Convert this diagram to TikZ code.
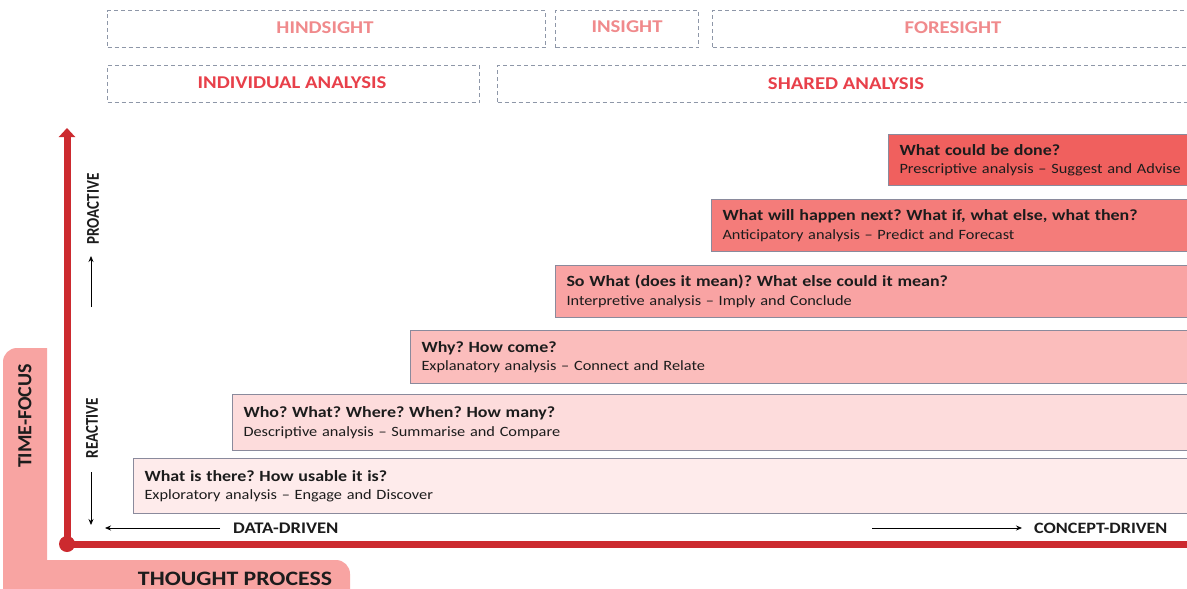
\documentclass[tikz,border=0pt]{standalone}
\usepackage{fontspec}
\setmainfont{Carlito}
\newfontfamily\wfont[FakeStretch=1.15,Ligatures=TeX]{Carlito}
\newfontfamily\tpfont[FakeStretch=1.16,Ligatures=TeX]{Carlito}
\usetikzlibrary{arrows.meta}
\definecolor{axisred}{HTML}{CC2A2F}
\definecolor{bandpink}{HTML}{F8A4A2}
\definecolor{dashgray}{HTML}{8E97A8}
\definecolor{lightred}{HTML}{F08A8C}
\definecolor{strongred}{HTML}{E8404A}
\definecolor{bordergray}{HTML}{8A8A9C}
\definecolor{cA}{HTML}{FEEBEB}
\definecolor{cB}{HTML}{FDDCDC}
\definecolor{cC}{HTML}{FBBDBC}
\definecolor{cD}{HTML}{F9A3A3}
\definecolor{cE}{HTML}{F47C7A}
\definecolor{cF}{HTML}{F0605E}
\definecolor{txt}{HTML}{1C1C1C}
\newcommand{\ttl}[1]{{\fontsize{15.6}{18}\selectfont\bfseries #1}}
\newcommand{\sub}[1]{{\fontsize{14.2}{18}\selectfont #1}}
\begin{document}
\frenchspacing
\begin{tikzpicture}[x=1pt,y=-1pt,
  dashbox/.style={draw=dashgray, line width=1pt, dash pattern=on 4pt off 3pt, anchor=north west, inner sep=0pt},
  hdlight/.style={font=\wfont\fontsize{18}{20}\selectfont\bfseries, text=lightred},
  hdstrong/.style={font=\wfont\fontsize{18}{20}\selectfont\bfseries, text=strongred},
  stepbox/.style={draw=bordergray, line width=1pt, anchor=north west, inner xsep=11pt, inner ysep=0pt, align=left, text=txt, font=\wfont\fontsize{14.2}{18.5}\selectfont\frenchspacing},
  axislbl/.style={font=\wfont\fontsize{16.2}{18}\selectfont\bfseries, text=txt, inner sep=0pt},
  sidelbl/.style={font=\fontsize{15}{17}\selectfont\bfseries, text=txt, rotate=90, inner sep=0pt},
  thinarrow/.style={draw=black, line width=0.8pt, -{Stealth[length=6pt,width=5pt]}},
  bigaxis/.style={draw=axisred, line width=7pt},
  bandlbl/.style={font=\fontsize{20}{22}\selectfont\bfseries, text=txt, inner sep=0pt}
]
\useasboundingbox (0,0) rectangle (1187,589);
\fill[white] (0,0) rectangle (1187,589);

% pink L band
\fill[bandpink] (3,600) -- (3,362) arc[start angle=180, end angle=90, radius=14pt] -- (47,348) -- (47,560) -- (336,560) arc[start angle=90, end angle=0, radius=14pt] -- (350,600) -- cycle;
\node[bandlbl, rotate=90] (tf) at (25,416) {TIME-FOCUS};
\node[bandlbl, font=\tpfont\fontsize{20.5}{22}\selectfont\bfseries] (tp) at (235,579) {THOUGHT PROCESS};

% header dashed boxes
\node[dashbox, minimum width=438pt, minimum height=37pt] (hind) at (107,10) {};
\node[hdlight] at (325,28) {HINDSIGHT};
\node[dashbox, minimum width=143pt, minimum height=37pt] (ins) at (555,10) {};
\node[hdlight] at (627,27) {INSIGHT};
\node[dashbox, minimum width=490pt, minimum height=37pt] (fore) at (712,10) {};
\node[hdlight] at (953,28) {FORESIGHT};
\node[dashbox, minimum width=372pt, minimum height=37pt] (indiv) at (107,65) {};
\node[hdstrong] at (292,83) {INDIVIDUAL ANALYSIS};
\node[dashbox, minimum width=700pt, minimum height=37pt] (shared) at (497,65) {};
\node[hdstrong] at (846,84) {SHARED ANALYSIS};

% step boxes
\node[stepbox, fill=cA, minimum width=1070pt, minimum height=55pt, text width=1048pt] (b1) at (133,458)
  {\ttl{What is there? How usable it is?}\\\sub{Exploratory analysis \textendash{} Engage and Discover}};
\node[stepbox, fill=cB, minimum width=970pt, minimum height=56pt, text width=948pt] (b2) at (232,394)
  {\ttl{Who? What? Where? When? How many?}\\\sub{Descriptive analysis \textendash{} Summarise and Compare}};
\node[stepbox, fill=cC, minimum width=790pt, minimum height=53pt, text width=768pt] (b3) at (410,330)
  {\ttl{Why? How come?}\\\sub{Explanatory analysis \textendash{} Connect and Relate}};
\node[stepbox, fill=cD, minimum width=645pt, minimum height=52pt, text width=623pt] (b4) at (555,265)
  {\ttl{So What (does it mean)? What else could it mean?}\\\sub{Interpretive analysis \textendash{} Imply and Conclude}};
\node[stepbox, fill=cE, minimum width=489pt, minimum height=52pt, text width=467pt] (b5) at (711,199)
  {\ttl{What will happen next? What if, what else, what then?}\\\sub{Anticipatory analysis \textendash{} Predict and Forecast}};
\node[stepbox, fill=cF, minimum width=312pt, minimum height=51pt, text width=290pt] (b6) at (888,134)
  {\ttl{What could be done?}\\\sub{Prescriptive analysis \textendash{} Suggest and Advise}};

% main axes
\coordinate (origin) at (67,544);
\coordinate (ytop) at (67,128);
\coordinate (xend) at (1200,544);
\draw[bigaxis, -{Triangle[length=9pt,width=16pt]}] (origin) -- (ytop);
\draw[bigaxis] (origin) -- (xend);
\fill[axisred] (origin) circle (8pt);

% side labels
\node[sidelbl] (pro) at (93,209) {\scalebox{1}[1.2]{PROACTIVE}};
\coordinate (proA) at (91,307);
\coordinate (proB) at (91,256);
\draw[thinarrow] (proA) -- (proB);
\node[sidelbl] (rea) at (92,428) {\scalebox{1}[1.2]{REACTIVE}};
\coordinate (reaA) at (91,472);
\coordinate (reaB) at (91,525);
\draw[thinarrow] (reaA) -- (reaB);

% bottom labels
\node[axislbl, anchor=west] (dd) at (233,528) {DATA-DRIVEN};
\coordinate (ddA) at (220,528);
\coordinate (ddB) at (105,528);
\draw[thinarrow] (ddA) -- (ddB);
\node[axislbl, anchor=west, font=\wfont\fontsize{15.8}{18}\selectfont\bfseries] (cd) at (1034,528) {CONCEPT-DRIVEN};
\coordinate (cdA) at (872,528);
\coordinate (cdB) at (1022,528);
\draw[thinarrow] (cdA) -- (cdB);
\end{tikzpicture}
\end{document}
